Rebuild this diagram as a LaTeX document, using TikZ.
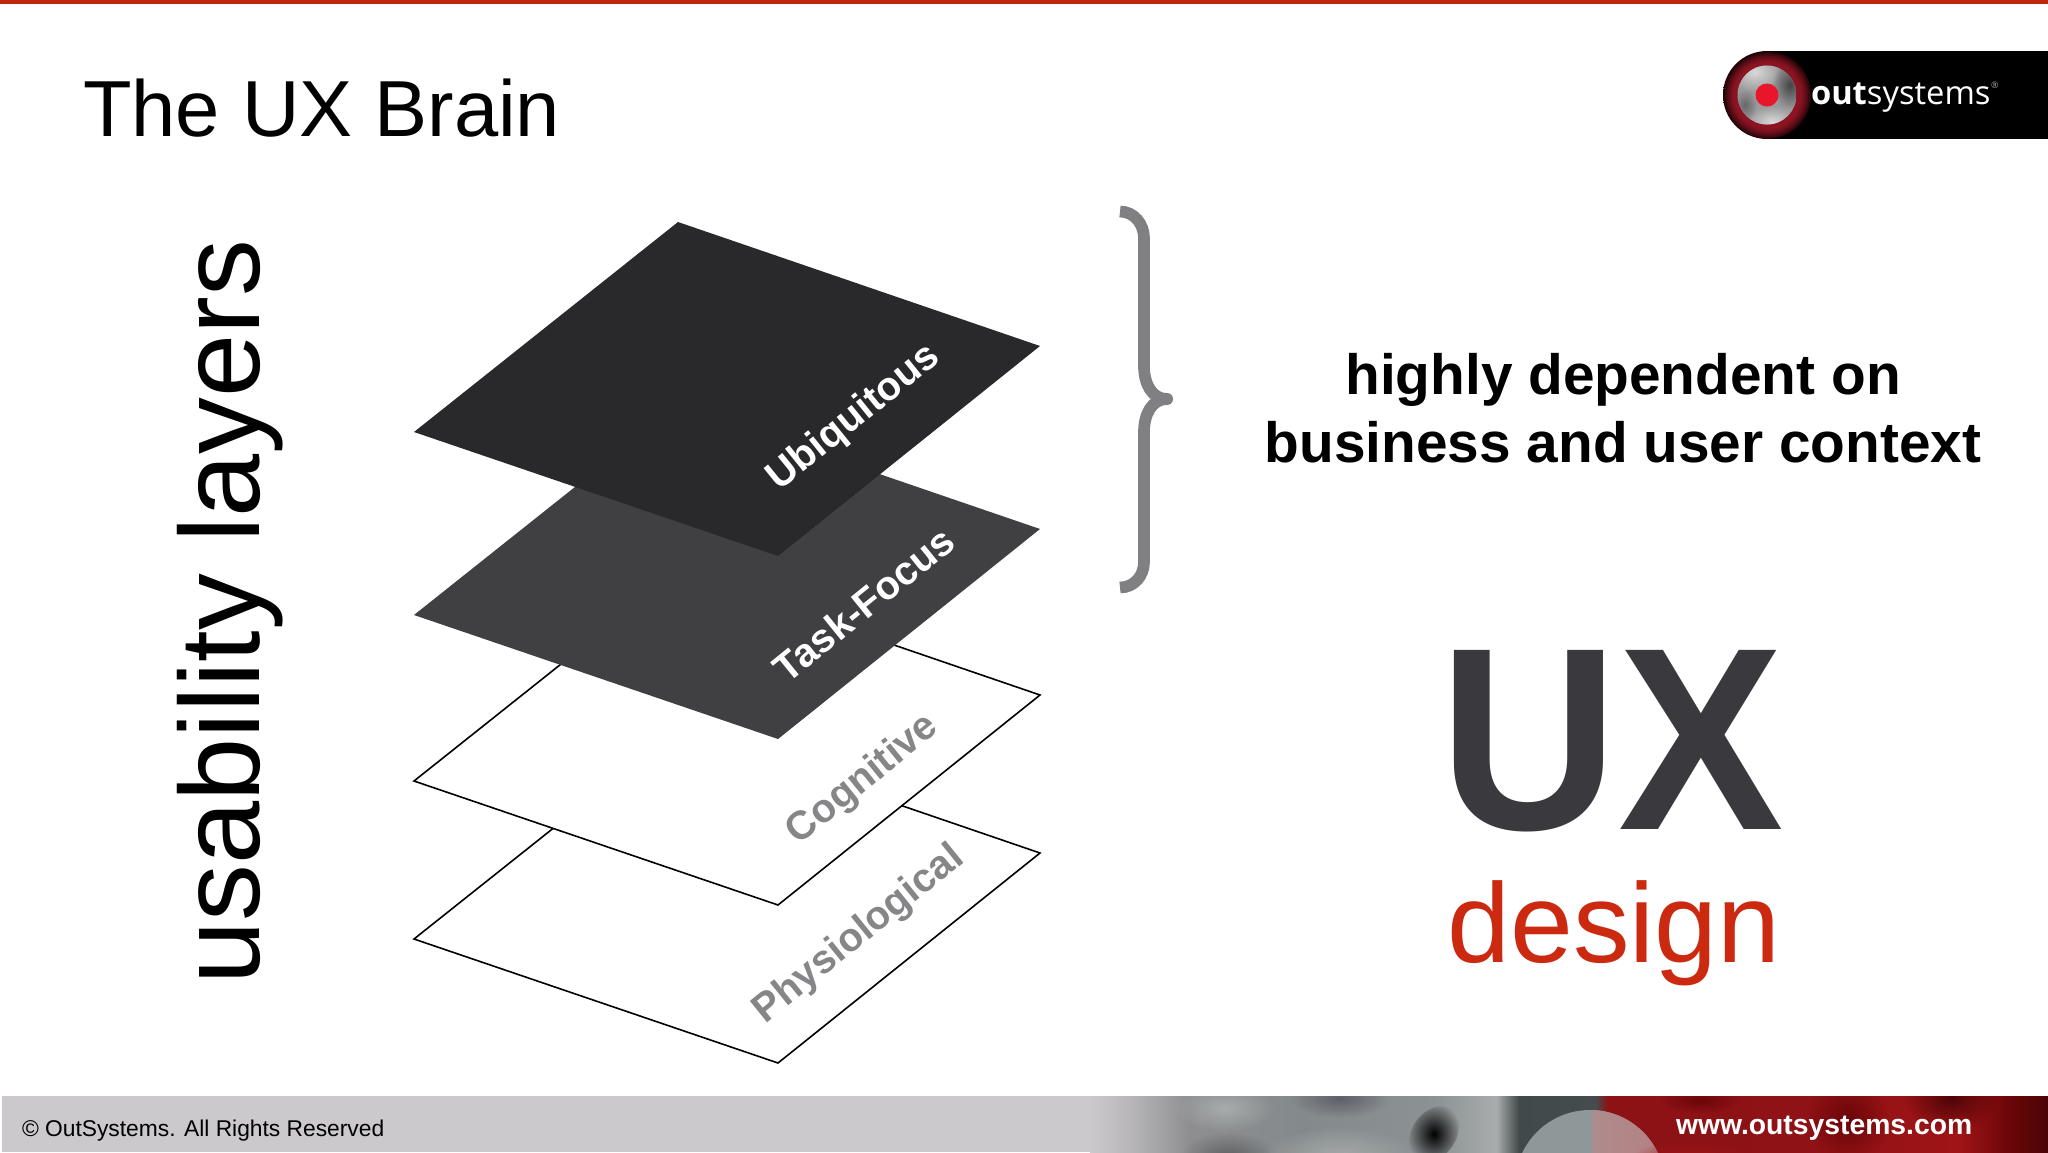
\documentclass[tikz,border=0pt]{standalone}
\usepackage{fontspec}
\setmainfont{Liberation Sans}
\newfontfamily\logofont{Open Sans}
\usetikzlibrary{fadings}
\definecolor{topred}{HTML}{C0260F}
\definecolor{ubi}{HTML}{29282B}
\definecolor{task}{HTML}{403F42}
\definecolor{lbl}{HTML}{868688}
\definecolor{bracec}{HTML}{807F82}
\definecolor{uxc}{HTML}{3A3A3E}
\definecolor{desc}{HTML}{CC2A10}
\definecolor{foot}{HTML}{CBC9CC}
\definecolor{fa}{HTML}{B8B6B8}
\definecolor{fb}{HTML}{8E8E90}
\definecolor{fc}{HTML}{848A8C}
\definecolor{fd}{HTML}{A8ACAC}
\definecolor{fe}{HTML}{8C9294}
\definecolor{ff}{HTML}{414A4B}
\definecolor{fg}{HTML}{444C4D}
\definecolor{fh}{HTML}{8C1216}
\definecolor{fi}{HTML}{8E1216}
\definecolor{fj}{HTML}{A01416}
\definecolor{fk}{HTML}{6A0608}
\definecolor{fl}{HTML}{4A0406}
\definecolor{fpink}{HTML}{AE8C8E}
\definecolor{fgrey}{HTML}{8E9898}
\definecolor{fpurple}{HTML}{5E5E68}
\definecolor{ringred}{HTML}{8C1422}
\definecolor{ringdark}{HTML}{1A0305}
\definecolor{discbase}{HTML}{9A9A9C}
\definecolor{disclight}{HTML}{DADADA}
\definecolor{discdark}{HTML}{454547}
\definecolor{dotred}{HTML}{E8152B}
\pgfdeclarehorizontalshading{footshade}{100bp}{
color(0bp)=(foot); color(25bp)=(foot); color(27.1bp)=(fa); color(30.2bp)=(fb);
color(36bp)=(fc); color(43bp)=(fe); color(46.2bp)=(fd); color(47.4bp)=(ff);
color(51.4bp)=(fg); color(52bp)=(fh); color(62.1bp)=(fi); color(70.4bp)=(fj);
color(73bp)=(fk); color(75bp)=(fl); color(100bp)=(fl)}
\pgfdeclareradialshading{ringshade}{\pgfpointorigin}{
color(0bp)=(ringred); color(19bp)=(ringred); color(22bp)=(ringred!60!ringdark); color(25bp)=(ringdark); color(50bp)=(ringdark)}
\tikzfading[name=blob, inner color=transparent!0, outer color=transparent!100]
\tikzset{
  txt/.style={inner sep=0pt, outer sep=0pt, anchor=base},
  layerlbl/.style={inner sep=0pt, outer sep=0pt, rotate=39, font=\fontsize{40}{40}\selectfont\bfseries},
  outline/.style={draw=black, line width=1.6pt, fill=white, line join=miter},
  blobby/.style={path fading=blob},
  bracestroke/.style={bracec, line width=11.7pt, line cap=butt}
}
\begin{document}
\begin{tikzpicture}[x=1pt,y=-1pt]
\useasboundingbox (0,0) rectangle (2048,1152);
\fill[white] (0,0) rectangle (2048,1152);
\fill[topred] (0,0) rectangle (2048,3.5);

% title
\node[txt, anchor=base west, font=\fontsize{79.5}{79.5}\selectfont] (title) at (83,136.5) {The UX Brain};

% logo
\fill[black] (1767,51) rectangle (2048,139);
\shade[shading=ringshade] (1767,95) circle[radius=44];
\begin{scope}
\clip (1767,95) circle[radius=29.5];
\fill[discbase] (1737,65) rectangle (1797,125);
\fill[disclight, blobby] (1755,72) ellipse[x radius=26, y radius=20];
\fill[discdark, blobby] (1790,85) ellipse[x radius=18, y radius=24];
\fill[disclight, blobby] (1772,122) ellipse[x radius=26, y radius=16];
\fill[discdark!60!discbase, blobby] (1745,105) ellipse[x radius=12, y radius=16];
\end{scope}
\fill[dotred] (1767,95) circle[radius=11.5];
\node[txt, anchor=base west, text=white, font=\fontsize{32.7}{32.7}\selectfont\logofont] (logotext) at (1811,104) {\textbf{out}systems};
\node[txt, anchor=base west, text=gray!70, font=\fontsize{9}{9}\selectfont\logofont] (logomark) at (1991,88) {®};

% side label
\node[txt, rotate=90, font=\fontsize{113.5}{113.5}\selectfont] (side) at (259,612) {usability layers};

% layers
\draw[outline] (678,729) -- (1040,853) -- (778,1063) -- (414,939) -- cycle;
\draw[outline] (678,571) -- (1040,695) -- (778,905) -- (414,781) -- cycle;
\fill[task] (678,405) -- (1040,529) -- (778,739) -- (414,615) -- cycle;
\fill[ubi] (678,222) -- (1040,346) -- (778,556) -- (414,432) -- cycle;

\node[layerlbl, text=white] (l1) at (854,418) {Ubiquitous};
\node[layerlbl, text=white] (l2) at (864,604) {Task-Focus};
\node[layerlbl, text=lbl] (l3) at (863,780) {Cognitive};
\node[layerlbl, text=lbl] (l4) at (859,935) {Physiological};

% brace
\draw[bracestroke] (1120,211.5) .. controls (1134,211.5) and (1144,224) .. (1144,238) -- (1144,366) .. controls (1144,384) and (1152,399) .. (1167,399);
\draw[bracestroke] (1120,587.5) .. controls (1134,587.5) and (1144,576) .. (1144,562) -- (1144,432) .. controls (1144,414) and (1152,399) .. (1167,399);
\fill[bracec] (1167,399) circle[radius=6];

% right text
\node[txt, font=\fontsize{56.8}{56.8}\selectfont\bfseries] (r1) at (1623,394) {highly dependent on};
\node[txt, font=\fontsize{56.8}{56.8}\selectfont\bfseries] (r2) at (1623,462) {business and user context};
\node[txt, text=uxc, font=\fontsize{248}{248}\selectfont\bfseries] (ux) at (1612,829) {\scalebox{1}[1.05]{UX}};
\node[txt, text=desc, font=\fontsize{113}{113}\selectfont] (design) at (1614,962) {design};

% footer
\fill[foot] (2,1096) rectangle (1090,1152);
\begin{scope}
\clip (1090,1096) rectangle (2048,1152);
\shade[shading=footshade] (1090,1096) rectangle (2048,1152);
\fill[fd, blobby] (1225,1108) ellipse[x radius=50, y radius=24];
\fill[black, opacity=.3, blobby] (1228,1156) ellipse[x radius=48, y radius=24];
\fill[fpurple, blobby] (1340,1098) ellipse[x radius=50, y radius=20];
\fill[fd, blobby] (1340,1160) ellipse[x radius=80, y radius=34];
\fill[black, blobby, rotate around={-35:(1434,1134)}] (1434,1134) ellipse[x radius=22, y radius=30];
\fill[fgrey] (1590,1185) circle[radius=75];
\begin{scope}
\clip (1590,1185) circle[radius=75];
\shade[left color=fpink, right color=fpink!90!red] (1592,1096) rectangle (1670,1152);
\end{scope}
\fill[fj, blobby] (1690,1160) ellipse[x radius=60, y radius=20];
\fill[fk, blobby] (1848,1120) ellipse[x radius=42, y radius=44];
\fill[fl, blobby] (1951,1096) ellipse[x radius=48, y radius=36];
\fill[fk, blobby] (1700,1100) ellipse[x radius=40, y radius=14];
\end{scope}
\node[txt, anchor=base west, font=\fontsize{22.8}{22.8}\selectfont] (copy) at (22,1136) {© OutSystems. All Rights Reserved};
\node[txt, anchor=base west, text=white, font=\fontsize{28.3}{28.3}\selectfont\bfseries] (url) at (1676,1134) {www.outsystems.com};
\end{tikzpicture}
\end{document}
